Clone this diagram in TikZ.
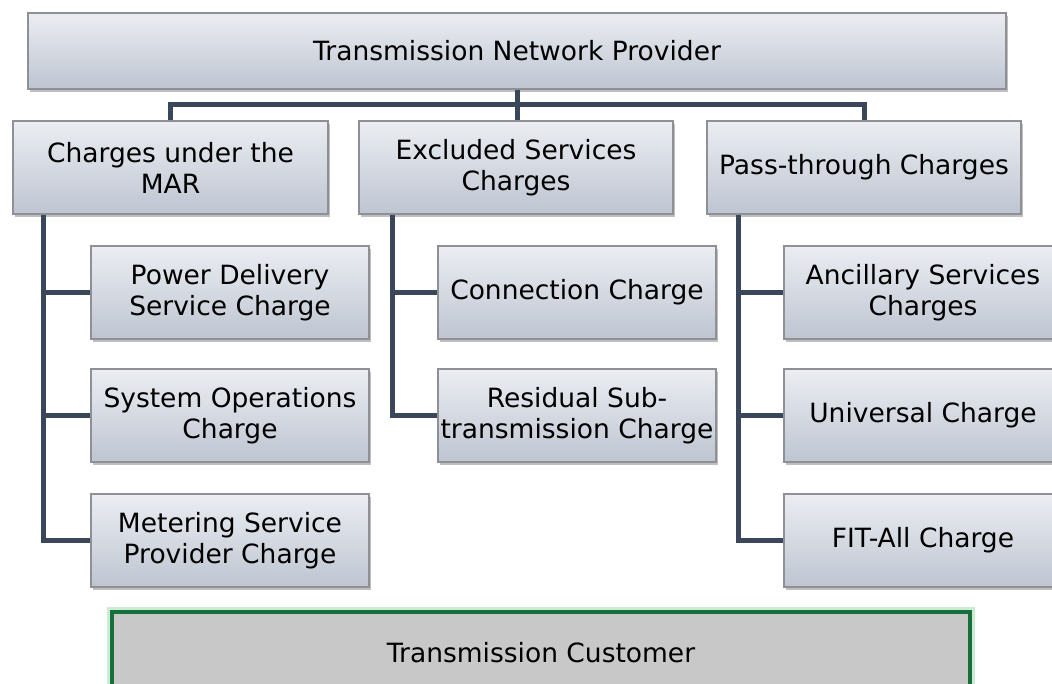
\documentclass[tikz,border=0pt]{standalone}
\usepackage{fontspec}
\setmainfont{DejaVu Sans}
\usetikzlibrary{shadows}
\definecolor{boxtop}{HTML}{EBEDF2}
\definecolor{boxbot}{HTML}{BEC5D1}
\definecolor{boxline}{HTML}{8E9096}
\definecolor{linkcol}{HTML}{3A4659}
\definecolor{custfill}{HTML}{C8C8C8}
\definecolor{custline}{HTML}{16703C}
\definecolor{custglow}{HTML}{A8DDB4}
\tikzset{
  orgbox/.style={draw=boxline, line width=1.2pt, top color=boxtop, bottom color=boxbot,
    align=center, inner sep=0pt, font=\fontsize{26.5}{31}\selectfont,
    drop shadow={shadow xshift=2pt, shadow yshift=-3pt, opacity=0.25, fill=black}},
  link/.style={draw=linkcol, line width=5pt},
}
\begin{document}
\begin{tikzpicture}[x=1pt, y=-1pt]
\useasboundingbox (0,0) rectangle (1052,684);
\begin{scope}
\clip (0,0) rectangle (1052,684);

% provider
\node[orgbox, minimum width=978pt, minimum height=76pt] (prov) at (517,51) {Transmission Network Provider};

% first level
\node[orgbox, minimum width=315pt, minimum height=93pt] (mar) at (170.5,167.5) {Charges under the\\MAR};
\node[orgbox, minimum width=314pt, minimum height=93pt] (excl) at (516,167.5) {Excluded Services\\Charges};
\node[orgbox, minimum width=314pt, minimum height=93pt] (pass) at (864,167.5) {Pass-through Charges};

% second level
\node[orgbox, minimum width=278pt, minimum height=93pt] (pdsc) at (230,292.5) {Power Delivery\\Service Charge};
\node[orgbox, minimum width=278pt, minimum height=93pt] (soc) at (230,415.5) {System Operations\\Charge};
\node[orgbox, minimum width=278pt, minimum height=93pt] (msp) at (230,540.5) {Metering Service\\Provider Charge};

\node[orgbox, minimum width=278pt, minimum height=93pt] (conn) at (577,292.5) {Connection Charge};
\node[orgbox, minimum width=278pt, minimum height=93pt] (resid) at (577,415.5) {Residual Sub-\\transmission Charge};

\node[orgbox, minimum width=278pt, minimum height=93pt] (anc) at (923,292.5) {Ancillary Services\\Charges};
\node[orgbox, minimum width=278pt, minimum height=93pt] (univ) at (923,415.5) {Universal Charge};
\node[orgbox, minimum width=278pt, minimum height=93pt] (fit) at (923,540.5) {FIT-All Charge};

% connectors from the provider
\coordinate (bus) at (517,105);
\draw[link] (prov.south) -- (bus);
\draw[link] (mar.north) |- (bus) -| (pass.north);
\draw[link] (bus) -- (excl.north -| bus);

% connectors to the second level
\coordinate (spA) at (43,0);
\coordinate (spB) at (392,0);
\coordinate (spC) at (738,0);
\draw[link] (mar.south -| spA) |- (msp.west);
\draw[link] (spA |- pdsc.west) -- (pdsc.west);
\draw[link] (spA |- soc.west) -- (soc.west);
\draw[link] (excl.south -| spB) |- (resid.west);
\draw[link] (spB |- conn.west) -- (conn.west);
\draw[link] (pass.south -| spC) |- (fit.west);
\draw[link] (spC |- anc.west) -- (anc.west);
\draw[link] (spC |- univ.west) -- (univ.west);

% customer
\draw[custglow, line width=10pt, opacity=0.6] (112,612) rectangle (970,694);
\node[draw=custline, line width=4.5pt, fill=custfill, minimum width=858pt, minimum height=82pt,
  inner sep=0pt, font=\fontsize{26.5}{31}\selectfont] (cust) at (541,653) {Transmission Customer};
\end{scope}
\end{tikzpicture}
\end{document}
